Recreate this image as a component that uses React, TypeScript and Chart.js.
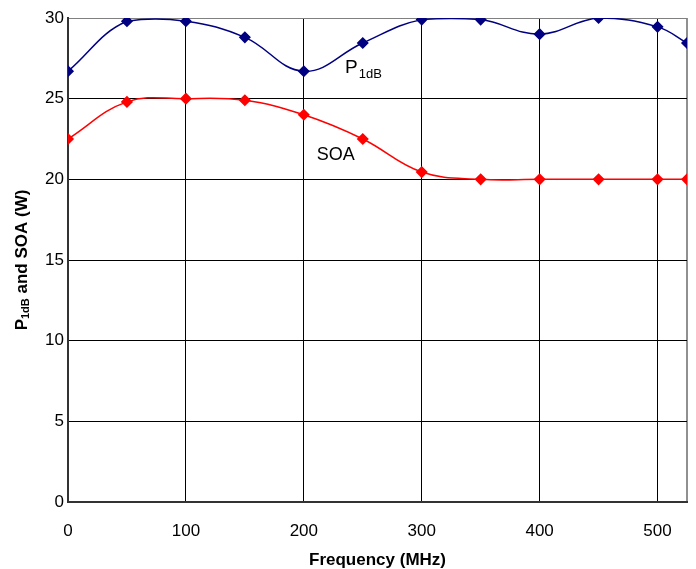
import React, { useEffect, useRef } from "react";
import { Chart, registerables } from "chart.js";

Chart.register(...registerables);

const frequencies = [0, 50, 100, 150, 200, 250, 300, 350, 400, 450, 500, 525];
const p1dbValues = [26.7, 29.8, 29.8, 28.8, 26.7, 28.45, 29.9, 29.9, 29.0, 30.0, 29.45, 28.45];
const soaValues = [22.5, 24.8, 25.0, 24.9, 24.0, 22.5, 20.45, 20.0, 20.0, 20.0, 20.0, 20.0];
const xTicks = [0, 100, 200, 300, 400, 500, 525];
const yTicks = [0, 5, 10, 15, 20, 25, 30];
const xTitle = "Frequency (MHz)";
const yTitleParts = ["P", "1dB", " and SOA (W)"];
const p1dbLabelPos = { x: 235, y: 26.9 };
const soaLabelPos = { x: 211, y: 21.5 };

const FONT = "'Liberation Sans', Arial, sans-serif";

const overlayPlugin = {
  id: "overlay",
  afterDraw(chart: any) {
    const ctx = chart.ctx as CanvasRenderingContext2D;
    const area = chart.chartArea;
    const xs = chart.scales.x;
    const ys = chart.scales.y;
    ctx.save();
    ctx.fillStyle = "#000";
    // y title with subscript
    ctx.save();
    ctx.translate(22, (area.top + area.bottom) / 2);
    ctx.rotate(-Math.PI / 2);
    const big = `bold 17px ${FONT}`;
    const small = `bold 11px ${FONT}`;
    ctx.font = big;
    const w0 = ctx.measureText(yTitleParts[0]).width;
    const w2 = ctx.measureText(yTitleParts[2]).width;
    ctx.font = small;
    const w1 = ctx.measureText(yTitleParts[1]).width;
    let px = -(w0 + w1 + w2) / 2;
    ctx.textBaseline = "middle";
    ctx.textAlign = "left";
    ctx.font = big;
    ctx.fillText(yTitleParts[0], px, 0);
    px += w0;
    ctx.font = small;
    ctx.fillText(yTitleParts[1], px, 4);
    px += w1;
    ctx.font = big;
    ctx.fillText(yTitleParts[2], px, 0);
    ctx.restore();

    // x title
    ctx.font = `bold 17px ${FONT}`;
    ctx.textAlign = "center";
    ctx.textBaseline = "middle";
    ctx.fillText(xTitle, (area.left + area.right) / 2, 560);

    // in-chart labels
    ctx.textAlign = "left";
    ctx.font = `19px ${FONT}`;
    const p1x = xs.getPixelForValue(p1dbLabelPos.x);
    const p1y = ys.getPixelForValue(p1dbLabelPos.y);
    ctx.fillText("P", p1x, p1y);
    const pw = ctx.measureText("P").width;
    ctx.font = `13px ${FONT}`;
    ctx.fillText("1dB", p1x + pw + 1, p1y + 6);
    ctx.font = `18px ${FONT}`;
    ctx.fillText("SOA", xs.getPixelForValue(soaLabelPos.x), ys.getPixelForValue(soaLabelPos.y));
    ctx.restore();
  },
};

export default function App() {
  const ref = useRef<HTMLCanvasElement | null>(null);
  useEffect(() => {
    if (!ref.current) return;
    const chart = new Chart(ref.current, {
      type: "line",
      data: {
        datasets: [
          {
            label: "P1dB",
            data: frequencies.map((f, i) => ({ x: f, y: p1dbValues[i] })),
            borderColor: "#000080",
            backgroundColor: "#000080",
            borderWidth: 1.5,
            pointStyle: "rectRot",
            pointRadius: 5,
            tension: 0.4,
          },
          {
            label: "SOA",
            data: frequencies.map((f, i) => ({ x: f, y: soaValues[i] })),
            borderColor: "#FF0000",
            backgroundColor: "#FF0000",
            borderWidth: 1.5,
            pointStyle: "rectRot",
            pointRadius: 5,
            tension: 0.4,
          },
        ],
      },
      options: {
        animation: false,
        responsive: true,
        maintainAspectRatio: false,
        layout: { padding: { top: 18, right: 9, left: 0, bottom: 0 } },
        plugins: { legend: { display: false }, tooltip: { enabled: false } },
        scales: {
          x: {
            type: "linear",
            min: 0,
            max: 525,
            afterBuildTicks: (s: any) => {
              s.ticks = xTicks.map((v) => ({ value: v }));
            },
            afterFit: (s: any) => {
              s.height = 67;
              s.paddingLeft = 0;
              s.paddingRight = 0;
            },
            ticks: {
              padding: 19,
              color: "#000",
              font: { family: FONT, size: 17 },
              maxRotation: 0,
              autoSkip: false,
              callback: (v: any) => (Number(v) % 100 === 0 ? String(v) : ""),
            },
            grid: {
              drawTicks: false,
              color: (c: any) => (c.tick && c.tick.value === 525 ? "#909090" : "#000"),
              lineWidth: (c: any) => (c.tick && c.tick.value === 525 ? 2 : 1),
            },
            border: { color: "#333", width: 2 },
          },
          y: {
            min: 0,
            max: 30,
            afterBuildTicks: (s: any) => {
              s.ticks = yTicks.map((v) => ({ value: v }));
            },
            afterFit: (s: any) => {
              s.width = 68;
              s.paddingTop = 0;
              s.paddingBottom = 0;
            },
            ticks: {
              padding: 4,
              color: "#000",
              font: { family: FONT, size: 17 },
            },
            grid: {
              drawTicks: false,
              color: (c: any) => (c.tick && c.tick.value === 30 ? "#808080" : "#000"),
            },
            border: { color: "#333", width: 2 },
          },
        },
      },
      plugins: [overlayPlugin],
    } as any);
    return () => chart.destroy();
  }, []);
  return (
    <div style={{ position: "fixed", left: 0, top: 0, width: 696, height: 569, background: "#fff" }}>
      <canvas ref={ref} />
    </div>
  );
}
